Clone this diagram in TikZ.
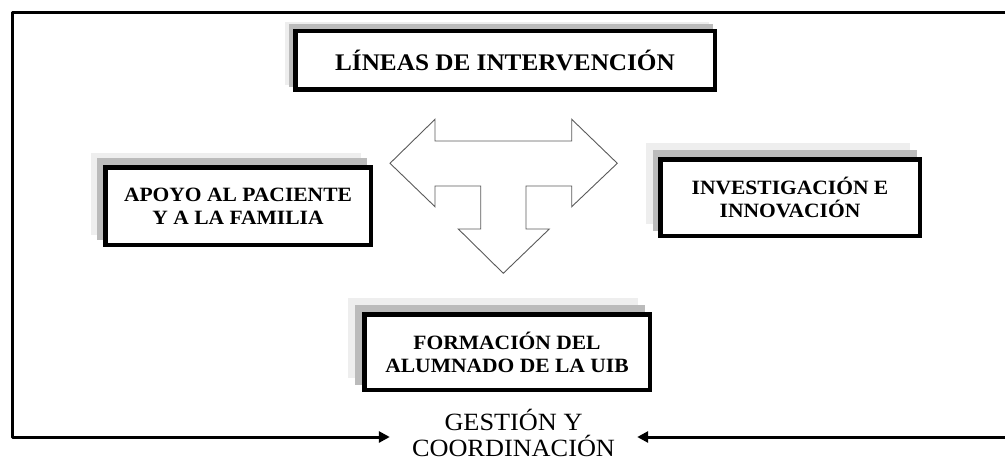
\documentclass[tikz,border=0pt]{standalone}
\usepackage{fontspec}
\setmainfont{Liberation Serif}[FakeStretch=1.06]
\usetikzlibrary{arrows.meta}
\pgfdeclarelayer{bg}
\pgfsetlayers{bg,main}
\definecolor{shlight}{HTML}{EEEEEE}
\definecolor{shdark}{HTML}{BBBBBB}
\definecolor{arrgray}{HTML}{5A5A5A}
\tikzset{
  box/.style={draw=black, line width=4.5pt, fill=white, inner sep=0pt, align=center,
    font=\fontsize{20.3}{23}\selectfont\bfseries},
  topbox/.style={box, font=\fontsize{23.8}{26}\selectfont\bfseries},
  framepath/.style={line width=3pt, line join=round},
  framearrow/.style={framepath, -{Triangle[length=11pt,width=11pt]}},
  bigarrow/.style={draw=arrgray, line width=0.9pt, fill=white, line join=miter},
  gest/.style={inner sep=0pt, align=center, minimum width=247pt,
    font=\fontsize{24.8}{26}\selectfont}
}
\newcommand\boxshadow[5]{%
  \begin{pgfonlayer}{bg}
    \fill[shlight] ([shift={(#2,#3)}]#1.south west) rectangle ([shift={(#2,#3)}]#1.north east);
    \fill[shdark] ([shift={(#4,#5)}]#1.south west) rectangle ([shift={(#4,#5)}]#1.north east);
  \end{pgfonlayer}}
\begin{document}
\begin{tikzpicture}[x=1pt, y=-1pt]
  \useasboundingbox (0,0) rectangle (1005,460);
  % boxes
  \node[topbox, minimum width=419.5pt, minimum height=58.5pt] (lineas) at (505,60.5) {LÍNEAS DE INTERVENCIÓN};
  \node[box, minimum width=265.5pt, minimum height=77.5pt] (apoyo) at (238,206) {APOYO AL PACIENTE\\Y A LA FAMILIA};
  \node[box, minimum width=259.5pt, minimum height=76.5pt] (invest) at (790,197.5) {INVESTIGACIÓN E\\INNOVACIÓN};
  \node[box, minimum width=285.5pt, minimum height=75.5pt] (formacion) at (507,352) {FORMACIÓN DEL\\ALUMNADO DE LA UIB};
  \boxshadow{lineas}{-8}{-7}{-4}{-5}
  \boxshadow{apoyo}{-12}{-12}{-6}{-7}
  \boxshadow{invest}{-12}{-14}{-5}{-7}
  \boxshadow{formacion}{-14}{-14}{-7}{-7}
  % T-shaped block arrow
  \draw[bigarrow] (390,163.3) -- (435,119.3) -- (435,141) -- (571.7,141) -- (571.7,119.3)
    -- (617.3,163.3) -- (571.7,206.7) -- (571.7,186) -- (526,186) -- (526,229)
    -- (549.3,229) -- (503.3,273.3) -- (458.3,229) -- (480.7,229) -- (480.7,186)
    -- (435,186) -- (435,206.7) -- cycle;
  % management node and frame
  \node[gest] (gestion) at (513.5,433) {GESTIÓN Y\\COORDINACIÓN};
  \coordinate (tr) at (1005,13);
  \coordinate (tl) at (12,13);
  \coordinate (bl) at (12,437);
  \coordinate (br) at (1005,437);
  \draw[framearrow] (tr) -- (tl) -- (bl) -- (gestion.west |- bl);
  \draw[framearrow] (br) -- (gestion.east |- br);
\end{tikzpicture}
\end{document}
